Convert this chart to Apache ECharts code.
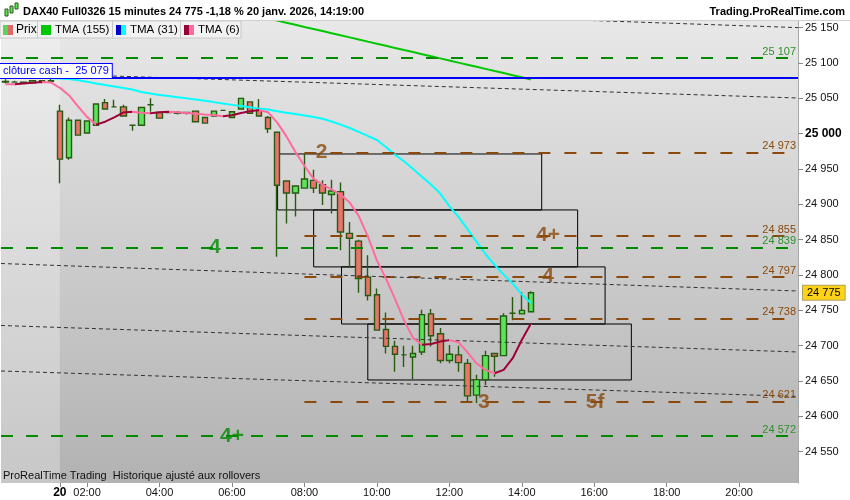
<!DOCTYPE html>
<html><head><meta charset="utf-8">
<script src="https://cdn.jsdelivr.net/npm/echarts@6/dist/echarts.min.js"></script>
<style>html,body{margin:0;padding:0;background:#fff}#c{width:850px;height:500px}</style>
</head><body><div id="c"></div><script>
// ---------- data ----------
const prevDayTimes = ['20:30','20:45','21:00','21:15','21:30','21:45'];
const daySlots = 82; // 01:15 .. 21:30 (15 min)
const dayLabel = '20';
const xTickHours = ['02:00','04:00','06:00','08:00','10:00','12:00','14:00','16:00','18:00','20:00'];

// candles from 20:30 (previous day) onwards, index 0 = 20:30
const candleOpen  = [25074,25073,25073,25072,25075,25074, 25032,24966,25019,25001,25012,25044,25038,25038,25012,25012,25041,25030,25030,25029,25030,25032,25023,25025,25033,25023,25035,25045,25033,25023,25002,24933,24916,24923,24934,24928,24914,24918,24859,24848,24797,24772,24723,24699,24687,24684,24691,24745,24717,24679,24687,24675,24630,24652,24689,24686,24746,24745,24748];
const candleClose = [25073,25073,25072,25075,25074,25075, 24964,25019,24998,25018,25042,25035,25038,25025,25012,25037,25041,25022,25030,25030,25029,25017,25015,25032,25033,25031,25050,25029,25025,25007,24927,24916,24926,24936,24923,24916,24919,24861,24852,24795,24771,24722,24699,24688,24687,24689,24744,24714,24679,24688,24676,24629,24652,24686,24685,24742,24746,24750,24775];
const candleLow   = [25071,25072,25071,25071,25073,25073, 24930,24963,24998,25001,25011,25035,25038,25025,25004,25012,25031,25021,25029,25027,25027,25016,25014,25024,25032,25022,25034,25028,25024,25001,24826,24873,24883,24922,24916,24899,24887,24835,24810,24775,24764,24721,24689,24663,24670,24653,24687,24699,24675,24675,24663,24621,24619,24644,24656,24685,24736,24744,24747];
const candleHigh  = [25077,25075,25074,25076,25076,25078, 25041,25023,25019,25018,25043,25049,25048,25041,25012,25037,25050,25031,25031,25032,25031,25033,25024,25032,25033,25032,25051,25046,25049,25025,25003,24934,24926,24972,24949,24934,24935,24931,24875,24850,24828,24781,24747,24707,24700,24700,24751,24752,24725,24701,24700,24681,24659,24693,24690,24746,24769,24776,24777];

const tma6   = [25070,25070,25071,25072,25073,25072.5, 25065,25054.5,25038.8,25023.8,25012.9,25017,25023.1,25029.9,25031.1,25029.6,25029.0,25030.2,25031,25030.3,25029.3,25028.3,25027.2,25026.3,25024.8,25026.2,25029.3,25031.7,25033.4,25030.3,25015.7,24996.5,24974.3,24954.6,24936.5,24928,24921.1,24913.6,24902.5,24883.8,24854.8,24820.7,24795.3,24766.3,24735.8,24711.1,24701.3,24702.5,24705.8,24707.9,24705,24690.8,24675.1,24665.5,24661,24665.8,24682.3,24708.1,24731];
const tma31  = [25079,25079,25079,25079,25079,25078.5, 25078.1,25077.4,25075.7,25073.4,25071,25068.9,25066.8,25064.7,25062.5,25059,25056.9,25054.8,25053.2,25051.5,25050,25048.4,25046.6,25044.7,25042.7,25040.8,25039.1,25037.4,25035.5,25034.3,25031.8,25029.6,25027.9,25025.8,25023.6,25021.1,25017.3,25012.9,25008.1,25002.6,24996.8,24991.1,24981.2,24970.3,24961,24950.2,24938.9,24927.8,24915.3,24897.6,24882.7,24864.9,24847.3,24829.4,24814.5,24800.6,24787.9,24772.6,24760.4];
const tma155Start = 24; // first slot with a visible value
const tma155 = [25177.9,25174.9,25171.9,25169,25166,25163,25160,25157.1,25154.1,25151.1,25148.2,25145.2,25142.2,25139.2,25136.3,25133.3,25130.3,25127.4,25124.4,25121.4,25118.4,25115.5,25112.5,25109.5,25106.6,25103.6,25100.6,25097.7,25094.7,25091.7,25088.7,25085.8,25082.8,25079.8,25076.8];

const yTicks = [24550,24600,24650,24700,24750,24800,24850,24900,24950,25000,25050,25100,25150];
const yMin = 24505.7, yMax = 25160.9;

const greenLevels = [25107, 24839, 24572];
const brownLevels = [24973, 24855, 24797, 24738, 24621];
const brownStart = 33.0;      // slot index where brown levels begin
const cashClose = 25079;
const lastPrice = 24775;
// trend lines: [[slot, value],[slot, value]]
const trendLines = [
  [[64, 25160.5],[87.5, 25150.1]],
  [[-0.5, 25086.7],[87.5, 25050.5]],
  [[-0.5, 24816.3],[87.5, 24777.4]],
  [[-0.5, 24728.6],[87.5, 24691.1]],
  [[-0.5, 24664.2],[87.5, 24628.1]]
];
// boxes: [slotFrom, valueTop, slotTo, valueBottom]
const boxes = [
  [30.04, 24971.3, 59.2, 24892.1],
  [34.02, 24892.1, 63.17, 24811.5],
  [37.1, 24811.5, 66.2, 24730.7],
  [40.0, 24730.7, 69.1, 24651.5]
];
const prevDayEnd = 6; // slot index where the current day starts
const annotations = [
  [34.9, 24974, '2', 'b'], [59.9, 24856, '4+', 'b'], [59.9, 24798, '4', 'b'],
  [52.8, 24620, '3', 'b'], [65.1, 24620, '5f', 'b'],
  [23.1, 24840, '4', 'g'], [25.0, 24572, '4+', 'g']
];

// ---------- build ----------
function two(n){return (n<10?'0':'')+n;}
const categories = prevDayTimes.slice();
for (let s = 0; s < daySlots; s++) {
  const m = 75 + s*15;
  categories.push(two(Math.floor(m/60)) + ':' + two(m%60));
}
const N = categories.length;
const fmt = v => String(Math.round(v)).replace(/\B(?=(\d{3})+(?!\d))/g, ' ');
const candles = candleOpen.map((o,i)=>[o, candleClose[i], candleLow[i], candleHigh[i]]);
const tma155Full = new Array(tma155Start).fill(null).concat(tma155);

const PINK = '#ff6b9d', DARK = '#9e0038', BROWN = '#8b4a0c', GREEN = '#008a00', GREEN_T = '#2f8f2f';
const FONT = '"Liberation Sans", Arial, sans-serif';

const pieces6 = [];
for (let k = 1; k < tma6.length; k++) {
  pieces6.push({gt: k-1, lte: k, color: tma6[k] > tma6[k-1] ? DARK : PINK});
}
pieces6[0] = {gte: 0, lte: 1, color: pieces6[0].color};

const isLabelIdx = (idx) => idx === prevDayEnd || (idx > prevDayEnd && xTickHours.indexOf(categories[idx]) >= 0);

const markLineData = [];
greenLevels.forEach(v => markLineData.push([
  {coord: [-0.5, v], lineStyle: {color: GREEN, width: 2, type: [12, 13]},
   label: {show: true, position: 'insideEndTop', formatter: fmt(v), color: GREEN_T, fontSize: 11, fontFamily: FONT, distance: [2, 1]}},
  {coord: [N - 0.5, v]}
]));
brownLevels.forEach(v => markLineData.push([
  {coord: [brownStart, v], lineStyle: {color: BROWN, width: 2, type: [12, 14]},
   label: {show: true, position: 'insideEndTop', formatter: fmt(v), color: BROWN, fontSize: 11, fontFamily: FONT, distance: [2, 1]}},
  {coord: [N - 0.5, v]}
]));
trendLines.forEach(t => markLineData.push([
  {coord: t[0], lineStyle: {color: '#333', width: 1, type: [4, 3]}, label: {show: false}},
  {coord: t[1]}
]));
markLineData.push([
  {coord: [-0.5, cashClose], lineStyle: {color: '#0000ff', width: 2, type: 'solid'},
   label: {show: true, position: 'insideStartTop', formatter: 'clôture cash -  ' + fmt(cashClose), color: '#0000ff',
     fontSize: 11, fontFamily: FONT, backgroundColor: '#fff', borderColor: '#0000ff', borderWidth: 1, padding: [2, 3, 1, 3], distance: [-1, 0]}},
  {coord: [N - 0.5, cashClose]}
]);

const markAreaData = [[
  {coord: [-0.5, yMax], itemStyle: {color: 'rgba(255,255,255,0.28)', borderWidth: 0}},
  {coord: [prevDayEnd, yMin]}
]];
boxes.forEach(b => markAreaData.push([
  {coord: [b[0], b[1]], itemStyle: {color: 'rgba(0,0,0,0)', borderColor: '#000', borderWidth: 1}},
  {coord: [b[2], b[3]]}
]));

const chart = echarts.init(document.getElementById('c'), null, {renderer: 'canvas'});
chart.setOption({
  animation: false,
  backgroundColor: '#fff',
  textStyle: {fontFamily: FONT},
  grid: {left: 1, right: 52, top: 20, bottom: 17, show: true, borderWidth: 0,
    backgroundColor: {type: 'linear', x: 0, y: 0, x2: 0, y2: 1,
      colorStops: [{offset: 0, color: '#e8e8e8'}, {offset: 1, color: '#b2b2b2'}]}},
  xAxis: [{
    type: 'category', data: categories, boundaryGap: true,
    axisLine: {show: false, onZero: false},
    axisTick: {show: true, alignWithLabel: true, interval: isLabelIdx, length: 4, inside: false, lineStyle: {color: '#888'}},
    axisLabel: {interval: isLabelIdx, color: '#111', fontSize: 11, fontFamily: FONT, margin: 4,
      formatter: (v, idx) => idx === prevDayEnd ? '{d|' + dayLabel + '}' : v,
      rich: {d: {fontWeight: 'bold', fontSize: 12, color: '#000'}}},
    splitLine: {show: false}
  }, {
    type: 'value', min: -0.5, max: N - 0.5, show: false,
    axisLine: {show: false, onZero: false}, axisTick: {show: false}, axisLabel: {show: false}, splitLine: {show: false}
  }],
  yAxis: {
    type: 'value', position: 'right', min: yMin, max: yMax,
    axisLine: {show: true, onZero: false, lineStyle: {color: '#a8a8a8'}},
    axisTick: {show: true, length: 5, customValues: yTicks, lineStyle: {color: '#888'}},
    axisLabel: {customValues: yTicks, color: '#111', fontSize: 11, fontFamily: FONT, margin: 7,
      formatter: v => v === 25000 ? '{b|' + fmt(v) + '}' : fmt(v),
      rich: {b: {fontWeight: 'bold', fontSize: 12, color: '#000'}}},
    splitLine: {show: false}
  },
  visualMap: [{show: false, type: 'piecewise', seriesIndex: 4, dimension: 0, pieces: pieces6, outOfRange: {color: PINK}}],
  series: [
    {type: 'line', xAxisIndex: 1, data: [], silent: true, z: 1,
     markArea: {silent: true, label: {show: false}, data: markAreaData},
     markLine: {silent: true, symbol: ['none', 'none'], data: markLineData}},
    {type: 'candlestick', data: candles, barWidth: 6, z: 3,
     itemStyle: {color: '#5ce35c', color0: '#ea736b', borderColor: '#285a12', borderColor0: '#285a12', borderWidth: 1.4},
     markLine: {silent: true, symbol: ['none', 'none'],
       data: [{yAxis: lastPrice, lineStyle: {width: 1, color: 'rgba(0,0,0,0)'},
         label: {show: true, position: 'end', distance: 5, formatter: fmt(lastPrice), color: '#000', fontSize: 11, fontFamily: FONT,
           backgroundColor: '#ffd21a', borderColor: '#b0a060', borderWidth: 1, padding: [2, 4, 1, 4]}}]}},
    {type: 'line', data: tma155Full, showSymbol: false, z: 4, lineStyle: {color: '#00c800', width: 2}, itemStyle: {color: '#00c800'}},
    {type: 'line', data: tma31, showSymbol: false, z: 4, lineStyle: {color: '#00ffff', width: 2}, itemStyle: {color: '#00ffff'}},
    {type: 'line', data: tma6, showSymbol: false, z: 5, lineStyle: {width: 2}},
    {type: 'scatter', xAxisIndex: 1, z: 6, symbolSize: 1, itemStyle: {color: 'rgba(0,0,0,0)'},
     data: annotations.map(a => ({value: [a[0], a[1]],
       label: {show: true, position: 'inside', formatter: a[2], fontSize: 21, fontWeight: 'bold', fontFamily: FONT,
         color: a[3] === 'b' ? BROWN : GREEN}}))}
  ],
  graphic: [
    {type: 'rect', shape: {x: 0, y: 0, width: 850, height: 20}, style: {fill: '#fff'}, z: 100},
    {type: 'rect', shape: {x: 5, y: 9, width: 3, height: 7}, style: {fill: '#5ce35c', stroke: '#2a5c14', lineWidth: 1}, z: 101},
    {type: 'rect', shape: {x: 10, y: 6, width: 3, height: 7}, style: {fill: '#5ce35c', stroke: '#2a5c14', lineWidth: 1}, z: 101},
    {type: 'rect', shape: {x: 15, y: 3, width: 3, height: 6}, style: {fill: '#5ce35c', stroke: '#2a5c14', lineWidth: 1}, z: 101},
    {type: 'text', x: 23, y: 12, style: {text: 'DAX40 Full0326 15 minutes 24 775 -1,18 % 20 janv. 2026, 14:19:00', font: 'bold 11px ' + FONT, fill: '#000', verticalAlign: 'middle'}, z: 101},
    {type: 'text', x: 845, y: 12, style: {text: 'Trading.ProRealTime.com', font: 'bold 11px ' + FONT, fill: '#000', align: 'right', verticalAlign: 'middle'}, z: 101},
    {type: 'line', shape: {x1: 0, y1: 20.5, x2: 850, y2: 20.5}, style: {stroke: '#cfcfcf', lineWidth: 1}, z: 101},
    // legend row
    {type: 'rect', shape: {x: 0, y: 21, width: 241, height: 17}, style: {fill: '#f2f2f2', stroke: '#c8c8c8', lineWidth: 1}, z: 100},
    {type: 'line', shape: {x1: 37.5, y1: 21, x2: 37.5, y2: 38}, style: {stroke: '#c8c8c8'}, z: 101},
    {type: 'line', shape: {x1: 112.5, y1: 21, x2: 112.5, y2: 38}, style: {stroke: '#c8c8c8'}, z: 101},
    {type: 'line', shape: {x1: 180.5, y1: 21, x2: 180.5, y2: 38}, style: {stroke: '#c8c8c8'}, z: 101},
    {type: 'rect', shape: {x: 3, y: 25, width: 5, height: 10}, style: {fill: '#5ad35a'}, z: 101},
    {type: 'rect', shape: {x: 8, y: 25, width: 5, height: 10}, style: {fill: '#e06767'}, z: 101},
    {type: 'text', x: 16, y: 30, style: {text: 'Prix', font: '12px ' + FONT, fill: '#000', verticalAlign: 'middle'}, z: 101},
    {type: 'rect', shape: {x: 41, y: 25, width: 10, height: 10}, style: {fill: '#00c800'}, z: 101},
    {type: 'text', x: 55, y: 30, style: {text: 'TMA (155)', font: '11.5px ' + FONT, fill: '#000', verticalAlign: 'middle'}, z: 101},
    {type: 'rect', shape: {x: 116, y: 25, width: 5, height: 10}, style: {fill: '#0000cc'}, z: 101},
    {type: 'rect', shape: {x: 121, y: 25, width: 5, height: 10}, style: {fill: '#00ffff'}, z: 101},
    {type: 'text', x: 130, y: 30, style: {text: 'TMA (31)', font: '11.5px ' + FONT, fill: '#000', verticalAlign: 'middle'}, z: 101},
    {type: 'rect', shape: {x: 184, y: 25, width: 5, height: 10}, style: {fill: '#99003a'}, z: 101},
    {type: 'rect', shape: {x: 189, y: 25, width: 5, height: 10}, style: {fill: '#ff6b9d'}, z: 101},
    {type: 'text', x: 198, y: 30, style: {text: 'TMA (6)', font: '11.5px ' + FONT, fill: '#000', verticalAlign: 'middle'}, z: 101},
    {type: 'text', x: 3, y: 476, style: {text: 'ProRealTime Trading  Historique ajusté aux rollovers', font: '11px ' + FONT, fill: '#111', verticalAlign: 'middle'}, z: 101}
  ]
});
</script></body></html>
